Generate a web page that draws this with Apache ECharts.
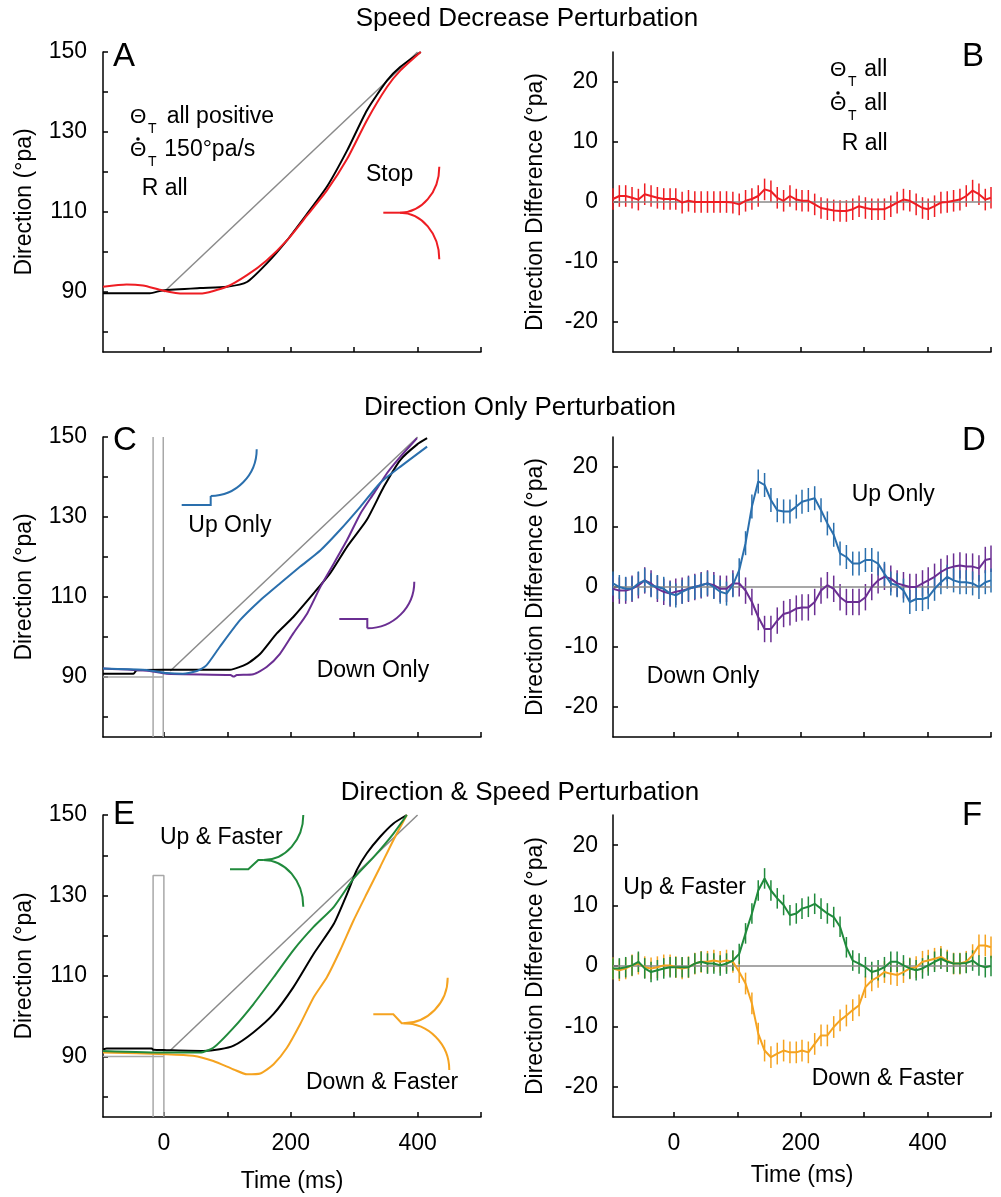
<!DOCTYPE html>
<html>
<head>
<meta charset="utf-8">
<script src="https://cdn.jsdelivr.net/npm/echarts@6/dist/echarts.min.js"></script>
<style>
  html, body { margin: 0; padding: 0; background: #fff; }
  #chart { width: 1001px; height: 1197px; }
</style>
</head>
<body>
<div id="chart"></div>
<script>
// ---- data ----
const timeTicks = [0, 100, 200, 300, 400, 500];
const timeLabels = [0, 200, 400];
const dirTicks = [80, 90, 100, 110, 120, 130, 140, 150];
const dirLabels = [90, 110, 130, 150];
const diffTicks = [-20, -10, 0, 10, 20];

// sample times of the difference traces (ms)
const tDiff = [-96, -86, -76, -66, -56, -46, -36, -26, -16, -6,
  3, 13, 23, 33, 43, 53, 63, 73, 83, 93,
  103, 113, 123, 133, 143, 153, 163, 173, 183, 193,
  202, 212, 222, 232, 242, 252, 262, 272, 282, 292,
  302, 312, 322, 332, 342, 352, 362, 372, 382, 392,
  401, 411, 421, 431, 441, 451, 461, 471, 481, 491, 500];

// panel B
const bStop = [0.5, 1.0, 1.0, 0.7, 0.4, 1.3, 1.0, 0.7, 0.5, 0.5,
  0.5, -0.1, 0.2, 0, 0, 0, 0, 0, 0, -0.1,
  -0.4, 0.2, 0.5, 1.0, 2.1, 1.8, 0.7, 0.2, 1.0, 0.4,
  0.2, 0.2, -0.4, -1.0, -1.2, -1.4, -1.5, -1.5, -1.2, -0.7,
  -1.0, -1.2, -1.2, -1.2, -0.7, -0.1, 0.4, 0.2, -0.4, -1.0,
  -1.2, -0.7, -0.1, 0, 0.2, 0.4, 1.0, 1.9, 1.3, 0.4, 0.7];

// panel D
const dUp = [0.6, 0, -0.3, -0.3, 0.6, 1.1, 0.3, 0, -0.3, -1.1,
  -1.4, -0.8, -0.3, 0, 0.3, 0.6, 0, -0.8, -1.1, 0.3,
  2.8, 7.3, 13.4, 17.6, 17.0, 14.5, 12.8, 12.6, 12.6, 13.4,
  14.2, 14.5, 14.8, 12.8, 10.6, 8.7, 5.6, 5.0, 3.9, 3.9,
  4.5, 4.5, 3.9, 2.2, 0.6, 0.3, -0.6, -2.5, -2.0, -2.0,
  -1.7, -0.3, 0.8, 1.7, 1.1, 0.8, 0.8, 0.6, 0, 0.8, 1.1];
const dDown = [-0.3, -0.6, -0.6, -0.3, 0.3, 1.1, 0.6, -0.3, -0.8, -1.1,
  -0.8, -0.6, -0.3, 0, 0.3, 0.6, 0.3, -0.3, -0.3, 0.6,
  0.6, -0.6, -2.5, -5.0, -7.0, -7.0, -5.6, -4.5, -4.2, -3.6,
  -3.4, -3.4, -2.5, -0.6, 0.3, -0.3, -1.7, -2.5, -2.5, -2.5,
  -1.7, 0, 1.1, 1.7, 1.4, 0.6, 0.3, 0, 0, 0.6,
  1.1, 1.7, 2.5, 3.1, 3.4, 3.6, 3.4, 3.4, 3.1, 4.5, 4.7];

// panel F
const fUpFast = [-0.4, -0.4, -0.2, 0.1, 0.7, -0.4, -1.0, -0.7, -0.4, -0.2,
  -0.2, -0.2, -0.2, 0.4, 0.7, 0.4, 0.4, 0.1, 0.4, 0.9,
  2.0, 5.4, 8.7, 12.5, 14.5, 12.5, 11.2, 10.1, 8.4, 8.7,
  9.5, 9.8, 10.3, 9.5, 8.7, 8.1, 6.5, 3.1, 0.9, 0.4,
  -0.2, -1.0, -0.7, -0.2, 0.7, 0.7, 0.1, -0.4, -0.7, -0.4,
  0.1, 0.7, 1.2, 0.7, 0.4, 0.4, 0.5, 0.9, 0.1, -0.2, 0];
const fDownFast = [-0.4, -0.7, -0.4, 0.1, 0.4, -0.2, -0.4, -0.2, 0.1, 0.1,
  -0.2, -0.4, -0.2, 0.4, 0.7, 0.7, 0.9, 0.7, 0.9, 0.7,
  -1.0, -2.9, -6.2, -11.2, -14.0, -15.1, -14.5, -14.0, -14.3, -14.3,
  -14.0, -14.3, -12.9, -11.5, -11.5, -10.1, -9.0, -8.2, -7.3, -6.5,
  -3.5, -2.4, -1.8, -1.0, -1.3, -1.5, -1.0, -0.4, -0.2, 0.7,
  0.9, 1.2, 1.5, 0.9, 0.4, 0.4, 0.7, 1.8, 3.4, 3.4, 3.1];

// error bar half-lengths (deg pa)
const errB = 1.8, errUp = 2.0, errDown = 2.2, errUpFast = 1.7, errDownFast = 1.8;

const zeroLine = [[-96, 0], [500, 0]];

// panel A  [time, direction]
const aTarget = [[0, 90], [400, 150]];
const aControl = [[-96, 89.7], [-22, 89.7], [-2, 90.4], [57, 91], [99, 91.3], [131, 92.5],
  [162, 97.1], [194, 102.9], [226, 109.6], [257, 116.3], [289, 125.4], [320, 135.4],
  [352, 142.9], [373, 146.3], [405, 150]];
const aStop = [[-96, 91.3], [-59, 91.9], [-33, 91.6], [-2, 90.4], [30, 89.6], [57, 89.6],
  [99, 91.3], [131, 94.2], [162, 97.9], [194, 102.9], [226, 109.2], [257, 115.4],
  [289, 123.3], [320, 132.9], [352, 141.3], [373, 145.4], [405, 150]];

// panel C
const cTarget = [[10, 91.5], [400, 150]];
const cBase = [[-96, 90], [-1, 90]];
const cMarkA = [[-17, 75], [-17, 150]];
const cMarkB = [[-1, 75], [-1, 150]];
const cControl = [[-96, 90.8], [-48, 90.8], [-43, 91.7], [-1, 91.8], [104, 91.8], [131, 93.3],
  [152, 95.8], [178, 100.9], [204, 105], [236, 110.9], [262, 115.9], [289, 122.6],
  [320, 129.3], [347, 137.6], [373, 144.3], [399, 148.1], [415, 149.7]];
const cUp = [[-96, 92.1], [-33, 91.8], [-17, 91.5], [4, 91], [30, 90.8], [52, 91.5], [67, 92.9],
  [88, 97.5], [120, 104.2], [152, 109.2], [183, 113.4], [215, 117.6], [247, 121.7],
  [278, 126.8], [310, 132.6], [341, 138.5], [373, 142.6], [415, 147.6]];
const cDown = [[-96, 92.1], [-22, 91.5], [4, 90.8], [105, 90.5], [110, 90.1], [115, 90.5],
  [141, 90.7], [162, 92.5], [183, 95.8], [204, 100.9], [226, 105.9], [247, 112.6],
  [268, 118.4], [289, 124.3], [310, 130.9], [331, 135.9], [352, 141], [373, 145.1], [399, 149.7]];

// panel E
const eTarget = [[10, 91.5], [400, 150]];
const eBase = [[-96, 90], [0, 90]];
const eMark = [[-17, 75], [-17, 135], [0, 135], [0, 75]];
const eControl = [[-96, 91.8], [-90, 92], [-19, 92], [-17, 91.7], [4, 91.6], [62, 91.4], [88, 91.8],
  [110, 92.7], [141, 96], [173, 100.6], [204, 107.2], [236, 115.5], [268, 123], [289, 130.5],
  [304, 136.3], [320, 140.5], [341, 144.6], [362, 147.9], [383, 150]];
const eUpFast = [[-96, 91.4], [4, 91], [57, 91], [78, 92.2], [110, 97.2], [141, 103], [173, 109.7],
  [204, 116.4], [236, 122.2], [268, 127.2], [299, 134.2], [331, 139.6], [362, 145.4], [383, 150]];
const eDownFast = [[-96, 91], [4, 90.6], [46, 90.2], [78, 88.9], [110, 86.8], [131, 85.6],
  [152, 85.8], [173, 88.1], [194, 92.2], [215, 98.1], [236, 104.7], [257, 109.7], [278, 116.4],
  [299, 123.8], [320, 130.5], [341, 137.1], [362, 143.8], [383, 150]];

// ---- styling ----
const FONT = '"Liberation Sans", Arial, Helvetica, sans-serif';
const RED = '#ee1d23';
const BLUE = '#2a6fad';
const PURPLE = '#6a2e92';
const GREEN = '#208a3c';
const ORANGE = '#f5a320';
const GRAY = '#8a8a8a';
const LIGHT = '#a8a8a8';

const grids = [
  {left: 103, top: 52, width: 378, height: 300},
  {left: 613, top: 52, width: 378, height: 300},
  {left: 103, top: 437, width: 378, height: 300},
  {left: 613, top: 437, width: 378, height: 300},
  {left: 103, top: 815, width: 378, height: 302},
  {left: 613, top: 815, width: 378, height: 302},
];

const axisLine = {onZero: false, lineStyle: {color: '#000', width: 1.5}};
const tickStyle = {inside: true, length: 5, lineStyle: {color: '#000', width: 1.5}};
const labelStyle = {color: '#000', fontSize: 23, fontFamily: FONT};

const xAxisFor = (gridIndex, named, gap) => ({
    type: 'value', gridIndex, min: -96, max: 500,
    axisLine,
    axisTick: {...tickStyle, customValues: timeTicks},
    axisLabel: {show: named, margin: 15, ...labelStyle, customValues: timeLabels},
    splitLine: {show: false},
    name: named ? 'Time (ms)' : '',
    nameLocation: 'middle', nameGap: gap,
    nameTextStyle: labelStyle,
});

const dirAxis = (gridIndex) => ({
    type: 'value', gridIndex, min: 75, max: 150,
    axisLine,
    axisTick: {...tickStyle, customValues: dirTicks},
    axisLabel: {margin: 16, ...labelStyle, customValues: dirLabels},
    splitLine: {show: false},
    name: 'Direction (°pa)', nameLocation: 'middle', nameGap: 67,
    nameTextStyle: labelStyle,
});

const diffAxis = (gridIndex) => ({
    type: 'value', gridIndex, min: -25, max: 25,
    axisLine,
    axisTick: {...tickStyle, customValues: diffTicks},
    axisLabel: {margin: 15, ...labelStyle, customValues: diffTicks},
    splitLine: {show: false},
    name: 'Direction Difference (°pa)', nameLocation: 'middle', nameGap: 66,
    nameTextStyle: labelStyle,
});

const line = (grid, data, color, width = 2) => ({
    type: 'line', xAxisIndex: grid, yAxisIndex: grid, data,
    symbol: 'none', smooth: false, silent: true,
    lineStyle: {color, width},
});
// trajectory traces get a light smoothing
const trace = (grid, data, color) => ({...line(grid, data, color), smooth: 0.2});

const pairs = (vals) => tDiff.map((t, i) => [t, vals[i]]);

const errBars = (grid, vals, err, color) => ({
    type: 'custom', xAxisIndex: grid, yAxisIndex: grid, silent: true,
    encode: {x: 0, y: 1},
    data: tDiff.map((t, i) => [t, vals[i], err]),
    renderItem: (params, api) => {
        const lo = api.coord([api.value(0), api.value(1) - api.value(2)]);
        const hi = api.coord([api.value(0), api.value(1) + api.value(2)]);
        return {
            type: 'line',
            shape: {x1: lo[0], y1: lo[1], x2: hi[0], y2: hi[1]},
            style: {stroke: color, lineWidth: 1.5},
        };
    },
});

const txt = (text, x, y, size = 23, align = 'left') => ({
    type: 'text', x, y, silent: true,
    style: {text, fontSize: size, fontFamily: FONT, fill: '#000', align, verticalAlign: 'middle'},
});
const dot = (x, y) => ({type: 'circle', shape: {cx: x, cy: y, r: 1.8}, style: {fill: '#000'}, silent: true});
const seg = (points, color) => ({
    type: 'polyline', silent: true,
    shape: {points},
    style: {stroke: color, lineWidth: 2, fill: null},
});
const bez = (x1, y1, c1x, c1y, c2x, c2y, x2, y2, color) => ({
    type: 'bezierCurve', silent: true,
    shape: {x1, y1, cpx1: c1x, cpy1: c1y, cpx2: c2x, cpy2: c2y, x2, y2},
    style: {stroke: color, lineWidth: 2, fill: null},
});

const graphics = [
    // panel titles
    txt('Speed Decrease Perturbation', 527, 19, 26, 'center'),
    txt('Direction Only Perturbation', 520, 408, 26, 'center'),
    txt('Direction & Speed Perturbation', 520, 793, 26, 'center'),
    // panel letters
    txt('A', 113, 57, 33), txt('B', 962, 57, 33),
    txt('C', 113, 441, 33), txt('D', 962, 441, 33),
    txt('E', 113, 815, 33), txt('F', 962, 816, 33),
    // panel A notes
    txt('Θ', 130, 117, 21), txt('T', 148, 129, 14), txt('all positive', 166.7, 117),
    txt('Θ', 130, 150, 21), dot(138, 139), txt('T', 148, 162, 14), txt('150°pa/s', 164.3, 150),
    txt('R all', 141.7, 189),
    txt('Stop', 366, 175),
    // panel B notes
    txt('Θ', 830, 70, 21), txt('T', 848, 82, 14), txt('all', 864.3, 70),
    txt('Θ', 830, 104, 21), dot(838, 93), txt('T', 848, 116, 14), txt('all', 864.3, 104),
    txt('R all', 841.7, 144),
    // panels C-F labels
    txt('Up Only', 188.3, 526), txt('Down Only', 316.7, 671),
    txt('Up Only', 851.7, 495), txt('Down Only', 646.7, 677),
    txt('Up & Faster', 160, 838), txt('Down & Faster', 306, 1083),
    txt('Up & Faster', 623.3, 888), txt('Down & Faster', 811.7, 1079),
    // trajectory icons
    seg([[383.3, 212.7], [400, 212.7]], RED),
    bez(400, 212.7, 421.7, 212.7, 439.3, 192.1, 439.3, 166.7, RED),
    bez(400, 212.7, 421.7, 212.7, 439.3, 233.6, 439.3, 259.3, RED),
    seg([[181.7, 505], [210.7, 505], [210.7, 496]], BLUE),
    bez(210.7, 496, 236.1, 496, 256.7, 475.1, 256.7, 449.3, BLUE),
    seg([[339.3, 619], [367.3, 619], [367.3, 628.3]], PURPLE),
    bez(367.3, 628.3, 393.3, 628.3, 414.3, 607.4, 414.3, 581.7, PURPLE),
    seg([[230, 869.3], [248.3, 869.3], [258.3, 860], [263.3, 860]], GREEN),
    bez(263.3, 860, 285.4, 860, 303.3, 839.9, 303.3, 815, GREEN),
    bez(263.3, 860, 285.4, 860, 303.3, 880.9, 303.3, 906.7, GREEN),
    seg([[373.3, 1014.3], [393.3, 1014.3], [401.7, 1023.3], [403.3, 1023.3]], ORANGE),
    bez(403.3, 1023.3, 427.8, 1023.3, 447.7, 1002.9, 447.7, 977.7, ORANGE),
    bez(403.3, 1023.3, 428.7, 1023.3, 449.3, 1044.2, 449.3, 1070, ORANGE),
];

const option = {
    animation: false,
    backgroundColor: '#fff',
    grid: grids,
    xAxis: [
        xAxisFor(0, false, 0), xAxisFor(1, false, 0),
        xAxisFor(2, false, 0), xAxisFor(3, false, 0),
        xAxisFor(4, true, 53), xAxisFor(5, true, 47),
    ],
    yAxis: [dirAxis(0), diffAxis(1), dirAxis(2), diffAxis(3), dirAxis(4), diffAxis(5)],
    series: [
        // A
        line(0, aTarget, GRAY, 1.5),
        trace(0, aControl, '#000'),
        trace(0, aStop, RED),
        // B
        line(1, zeroLine, GRAY, 1.5),
        errBars(1, bStop, errB, RED),
        line(1, pairs(bStop), RED),
        // C
        line(2, cBase, LIGHT, 1.5),
        line(2, cMarkA, LIGHT, 1.5),
        line(2, cMarkB, LIGHT, 1.5),
        line(2, cTarget, GRAY, 1.5),
        trace(2, cControl, '#000'),
        trace(2, cDown, PURPLE),
        trace(2, cUp, BLUE),
        // D
        line(3, zeroLine, GRAY, 1.5),
        errBars(3, dDown, errDown, PURPLE),
        line(3, pairs(dDown), PURPLE),
        errBars(3, dUp, errUp, BLUE),
        line(3, pairs(dUp), BLUE),
        // E
        line(4, eBase, LIGHT, 1.5),
        line(4, eMark, LIGHT, 1.5),
        line(4, eTarget, GRAY, 1.5),
        trace(4, eControl, '#000'),
        trace(4, eDownFast, ORANGE),
        trace(4, eUpFast, GREEN),
        // F
        line(5, zeroLine, GRAY, 1.5),
        errBars(5, fDownFast, errDownFast, ORANGE),
        line(5, pairs(fDownFast), ORANGE),
        errBars(5, fUpFast, errUpFast, GREEN),
        line(5, pairs(fUpFast), GREEN),
    ],
    graphic: graphics,
};

const chart = echarts.init(document.getElementById('chart'), null, {renderer: 'canvas'});
chart.setOption(option);
</script>
</body>
</html>
